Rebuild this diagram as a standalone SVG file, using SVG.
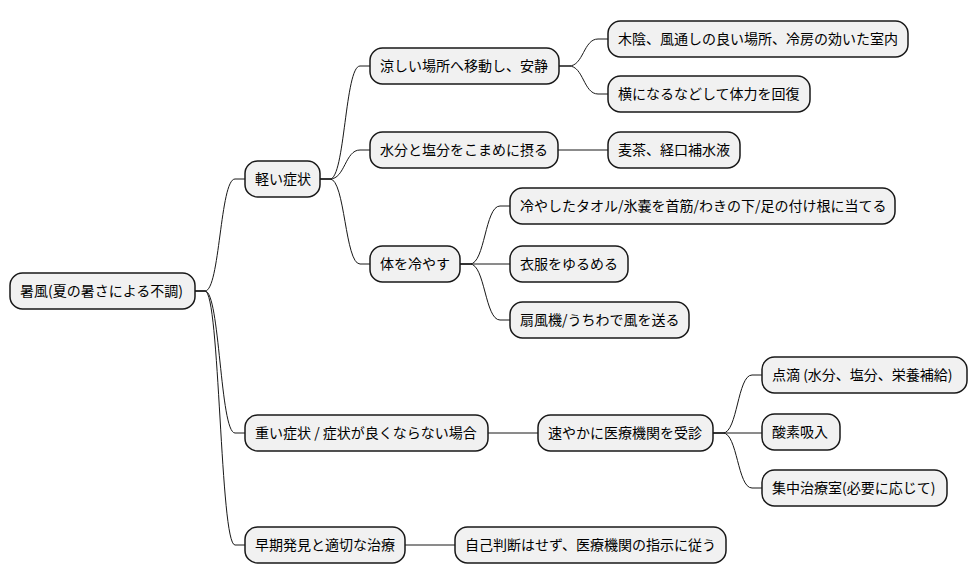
<svg xmlns="http://www.w3.org/2000/svg" width="976" height="583" viewBox="0 0 976 583">
<style>
.n rect{fill:#F1F1F1;stroke:#181818;stroke-width:1.5}
.n text{font-family:"Noto Sans CJK JP","Noto Sans",sans-serif;font-size:14px;fill:#000}
.c path{fill:none;stroke:#181818;stroke-width:1}
</style>
<rect width="976" height="583" fill="#FFFFFF"/>
<g class="c" id="connectors">
<path d="M195 291 H205 C220 291 220 179 235 179 H245"/>
<path d="M195 291 H205 C220 291 220 433 235 433 H245"/>
<path d="M195 291 H205 C220 291 220 545 235 545 H245"/>
<path d="M320 179 H330 C345 179 345 66 360 66 H370"/>
<path d="M320 179 H330 C345 179 345 150 360 150 H370"/>
<path d="M320 179 H330 C345 179 345 264 360 264 H370"/>
<path d="M559 66 H569 C583.5 66 583.5 39 598 39 H608"/>
<path d="M559 66 H569 C583.5 66 583.5 94 598 94 H608"/>
<path d="M558 150 H608"/>
<path d="M460 264 H470 C485 264 485 206 500 206 H510"/>
<path d="M460 264 H510"/>
<path d="M460 264 H470 C485 264 485 320 500 320 H510"/>
<path d="M488 433 H538"/>
<path d="M713 433 H723 C737.5 433 737.5 375 752 375 H762"/>
<path d="M713 433 H762"/>
<path d="M713 433 H723 C737.5 433 737.5 488 752 488 H762"/>
<path d="M405 545 H455"/>
</g>
<g class="n" id="root"><rect x="10" y="273" width="185" height="36" rx="12.5"/><text x="20" y="296">暑風(夏の暑さによる不調)</text></g>
<g class="n" id="mild"><rect x="245" y="161" width="75" height="36" rx="12.5"/><text x="255" y="184">軽い症状</text></g>
<g class="n" id="cool-place"><rect x="370" y="48" width="189" height="36" rx="12.5"/><text x="380" y="71">涼しい場所へ移動し、安静</text></g>
<g class="n" id="shade"><rect x="608" y="21" width="300" height="36" rx="12.5"/><text x="618" y="44">木陰、風通しの良い場所、冷房の効いた室内</text></g>
<g class="n" id="lie-down"><rect x="608" y="76" width="202" height="36" rx="12.5"/><text x="618" y="99">横になるなどして体力を回復</text></g>
<g class="n" id="hydrate"><rect x="370" y="132" width="188" height="36" rx="12.5"/><text x="380" y="155">水分と塩分をこまめに摂る</text></g>
<g class="n" id="drinks"><rect x="608" y="132" width="132" height="36" rx="12.5"/><text x="618" y="155">麦茶、経口補水液</text></g>
<g class="n" id="cool-body"><rect x="370" y="246" width="90" height="36" rx="12.5"/><text x="380" y="269">体を冷やす</text></g>
<g class="n" id="towel"><rect x="510" y="188" width="385" height="36" rx="12.5"/><text x="520" y="211">冷やしたタオル/氷嚢を首筋/わきの下/足の付け根に当てる</text></g>
<g class="n" id="loosen"><rect x="510" y="246" width="118" height="36" rx="12.5"/><text x="520" y="269">衣服をゆるめる</text></g>
<g class="n" id="fan"><rect x="510" y="302" width="179" height="36" rx="12.5"/><text x="520" y="325">扇風機/うちわで風を送る</text></g>
<g class="n" id="severe"><rect x="245" y="415" width="243" height="36" rx="12.5"/><text x="255" y="438">重い症状 / 症状が良くならない場合</text></g>
<g class="n" id="hospital"><rect x="538" y="415" width="175" height="36" rx="12.5"/><text x="548" y="438">速やかに医療機関を受診</text></g>
<g class="n" id="drip"><rect x="762" y="357" width="205" height="36" rx="12.5"/><text x="772" y="380">点滴 (水分、塩分、栄養補給)</text></g>
<g class="n" id="oxygen"><rect x="762" y="414" width="78" height="36" rx="12.5"/><text x="772" y="437">酸素吸入</text></g>
<g class="n" id="icu"><rect x="762" y="470" width="185" height="36" rx="12.5"/><text x="772" y="493">集中治療室(必要に応じて)</text></g>
<g class="n" id="early"><rect x="245" y="527" width="160" height="36" rx="12.5"/><text x="255" y="550">早期発見と適切な治療</text></g>
<g class="n" id="follow"><rect x="455" y="527" width="271" height="36" rx="12.5"/><text x="465" y="550">自己判断はせず、医療機関の指示に従う</text></g>
</svg>
